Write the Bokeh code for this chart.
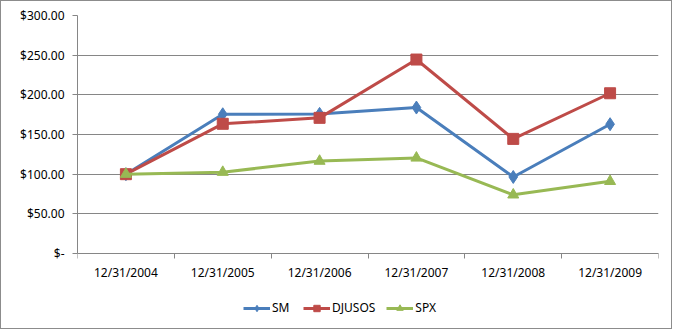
from bokeh.plotting import figure
from bokeh.models import FixedTicker, Range1d, Legend, LegendItem
from bokeh.embed import file_html
from bokeh.resources import INLINE

categories = ["12/31/2004", "12/31/2005", "12/31/2006", "12/31/2007", "12/31/2008", "12/31/2009"]
sm = [100.0, 175.5, 176.0, 184.0, 96.5, 163.0]
djusos = [100.0, 163.5, 171.0, 244.5, 144.5, 202.0]
spx = [100.0, 102.5, 116.5, 120.5, 74.0, 91.0]
y_ticks = [0, 50, 100, 150, 200, 250, 300]
y_tick_labels = ["$-", "$50.00", "$100.00", "$150.00", "$200.00", "$250.00", "$300.00"]

FONT = "Noto Sans"
GRID = "#868686"
BLUE = "#4A7EBB"
RED = "#BE4B48"
GREEN = "#98B954"

xs = list(range(len(categories)))

p = figure(width=672, height=329, output_backend="svg", toolbar_location=None,
           x_range=Range1d(-0.5, len(categories) - 0.5), y_range=Range1d(-94.5, 300),
           min_border_left=76, min_border_right=15, min_border_top=14, min_border_bottom=2)
p.styles = {"border": "1px solid #8c8c8c"}
p.outline_line_color = None
p.background_fill_color = "white"
p.border_fill_color = "white"

# y axis
p.yaxis.ticker = FixedTicker(ticks=y_ticks)
p.yaxis.bounds = (0, 300)
p.yaxis.major_label_overrides = {t: l for t, l in zip(y_ticks, y_tick_labels)}
p.yaxis.axis_line_color = GRID
p.yaxis.major_tick_line_color = GRID
p.yaxis.major_tick_out = 5
p.yaxis.major_tick_in = 0
p.yaxis.minor_tick_line_color = None
p.yaxis.major_label_standoff = 8
p.yaxis.major_label_text_font = FONT
p.yaxis.major_label_text_font_size = "12px"
p.yaxis.major_label_text_color = "#000000"

# x axis
p.xaxis.fixed_location = 0
p.xaxis.ticker = FixedTicker(ticks=xs, minor_ticks=[i - 0.5 for i in range(len(categories) + 1)])
p.xaxis.major_label_overrides = {i: c for i, c in zip(xs, categories)}
p.xaxis.axis_line_color = GRID
p.xaxis.major_tick_line_color = None
p.xaxis.major_tick_out = 0
p.xaxis.major_tick_in = 0
p.xaxis.minor_tick_line_color = GRID
p.xaxis.minor_tick_out = 5
p.xaxis.minor_tick_in = 0
p.xaxis.major_label_standoff = 5
p.xaxis.major_label_text_font = FONT
p.xaxis.major_label_text_font_size = "12px"
p.xaxis.major_label_text_color = "#000000"

p.xgrid.grid_line_color = None
p.ygrid.ticker = FixedTicker(ticks=y_ticks)
p.ygrid.grid_line_color = GRID
p.ygrid.grid_line_width = 1

l1 = p.line(xs, sm, line_color=BLUE, line_width=3)
m1 = p.scatter(xs, sm, marker="diamond", size=13, fill_color=BLUE, line_color=BLUE)
l2 = p.line(xs, djusos, line_color=RED, line_width=3)
m2 = p.scatter(xs, djusos, marker="square", size=11, fill_color=RED, line_color=RED)
l3 = p.line(xs, spx, line_color=GREEN, line_width=3)
m3 = p.scatter(xs, spx, marker="triangle", size=11, fill_color=GREEN, line_color=GREEN)

legend = Legend(items=[LegendItem(label="SM", renderers=[l1, m1]),
                       LegendItem(label="DJUSOS", renderers=[l2, m2]),
                       LegendItem(label="SPX", renderers=[l3, m3])],
                orientation="horizontal", location=(166, 12),
                padding=0, margin=0, spacing=11, label_standoff=2,
                glyph_width=27, glyph_height=16,
                label_text_font=FONT, label_text_font_size="12px",
                label_text_color="#000000",
                border_line_color=None, background_fill_alpha=0)
p.add_layout(legend, "center")

open("out.html", "w").write(file_html(p, INLINE))
